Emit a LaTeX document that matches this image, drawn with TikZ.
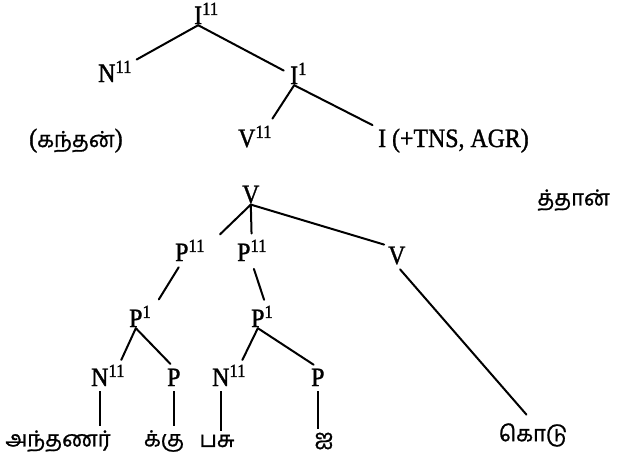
\documentclass[tikz,border=0pt]{standalone}
\usepackage{fontspec}
\setmainfont{Liberation Serif}[FakeStretch=0.9, FakeBold=1.2]
\newfontfamily\tamilfont[Script=Tamil, FakeBold=1]{Hind Madurai}
\usetikzlibrary{positioning}
\newcommand{\bartwo}[1]{#1\rlap{\textsuperscript{11}}}
\newcommand{\barone}[1]{#1\rlap{\textsuperscript{1}}}
\tikzset{
  catnode/.style={inner sep=1pt, anchor=base west, font=\fontsize{26.5}{30}\selectfont},
  wordnode/.style={inner sep=1pt, font=\tamilfont\fontsize{22}{26}\selectfont},
  branch/.style={line width=2pt, line cap=round},
  stem/.style={line width=2pt, shorten <=4pt, shorten >=3pt}
}
\begin{document}
\begin{tikzpicture}[x=1pt, y=-1pt]
\useasboundingbox (0,0) rectangle (617,458);

% upper tree
\node[catnode] (ipp) at (193,24) {\bartwo{I}};
\node[catnode] (npp) at (97,82) {\bartwo{N}};
\node[catnode] (ip) at (289,84) {\barone{I}};
\node[catnode] (vpp) at (237,147) {\bartwo{V}};
\node[catnode] (itns) at (377,147) {I (+TNS, AGR)};
\node[catnode] (kanthan) at (28,147) {({\tamilfont\fontsize{22}{26}\selectfont கந்தன்})};

\draw[branch] (ipp.south) -- ([xshift=20pt]npp.north east);
\draw[branch, shorten >=6pt] (ipp.south) -- (ip.west);
\draw[branch, shorten >=7pt] (ip.south) -- ([xshift=12pt]vpp.north east);
\draw[branch, shorten >=5pt] (ip.south) -- (itns.north west);

% lower tree
\node[catnode] (vtop) at (241,203) {V};
\node[wordnode, anchor=east] (thaan) at (611,200) {த்தான்};
\node[catnode] (pa2) at (174,261) {\bartwo{P}};
\node[catnode] (pb2) at (236,261) {\bartwo{P}};
\node[catnode] (vr) at (387,264) {V};
\node[catnode] (pa1) at (128,327) {\barone{P}};
\node[catnode] (pb1) at (250,327) {\barone{P}};
\node[catnode] (na) at (90,386) {\bartwo{N}};
\node[catnode] (pa) at (166,386) {P};
\node[catnode] (nb) at (211,386) {\bartwo{N}};
\node[catnode] (pb) at (310,386) {P};

\node[wordnode] (antha) at (58,441) {அந்தணர்};
\node[wordnode] (kku) at (164,441) {க்கு};
\node[wordnode] (pasu) at (217,441) {பசு};
\node[wordnode] (ai) at (324,441) {ஐ};
\node[wordnode] (kodu) at (533,435) {கொடு};

\draw[branch, shorten >=6pt] (vtop.south) -- ([xshift=26pt]pa2.north east);
\draw[branch, shorten >=5pt] (vtop.south) -- (pb2.north east);
\draw[branch, shorten >=3pt] (vtop.south) -- (vr.north west);
\draw[branch, shorten <=6pt, shorten >=6pt] (pa2.south) -- ([xshift=12pt]pa1.north east);
\draw[branch, shorten <=7pt, shorten >=5pt] (pb2.south east) -- (pb1.north east);
\draw[branch, shorten <=5pt, shorten >=10pt] (vr.south) -- (kodu.north);
\draw[branch, shorten >=4pt] (pa1.south) -- ([xshift=10pt]na.north east);
\draw[branch, shorten >=5pt] (pa1.south) -- (pa.north);
\draw[branch, shorten >=4pt] (pb1.south) -- ([xshift=10pt]nb.north east);
\draw[branch, shorten >=5pt] (pb1.south) -- (pb.north);

\draw[stem] (na.south) -- (na.south |- antha.north);
\draw[stem] (pa.south) -- (pa.south |- kku.north);
\draw[stem] (nb.south) -- (nb.south |- pasu.north);
\draw[stem] (pb.south) -- (pb.south |- ai.north);
\end{tikzpicture}
\end{document}
